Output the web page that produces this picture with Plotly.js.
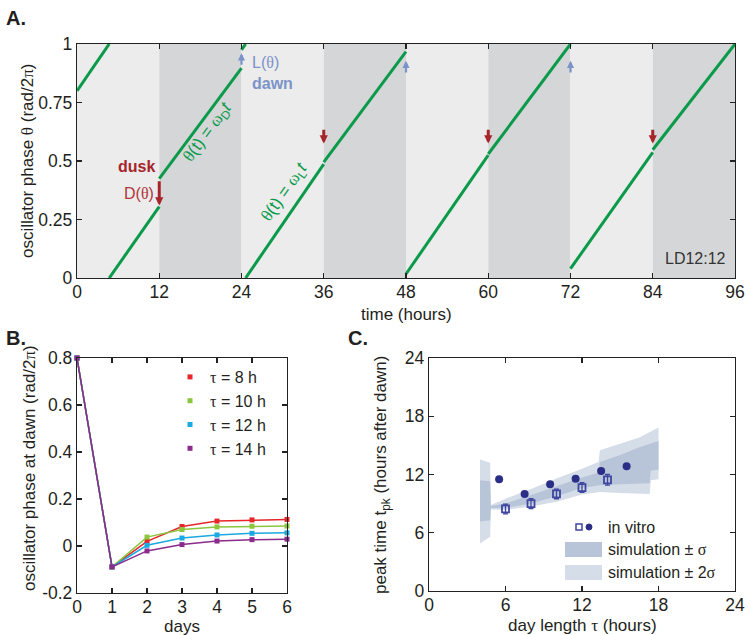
<!DOCTYPE html>
<html><head><meta charset="utf-8">
<script src="https://cdn.plot.ly/plotly-3.0.1.min.js"></script>
<style>html,body{margin:0;padding:0;background:#fff}#chart{width:750px;height:635px}</style>
</head><body><div id="chart"></div>
<script>
// ---------- Panel A data ----------
const phaseTime  = [0, 4.7, null, 4.7, 12, null, 12, 24, null, 24, 24.6, null, 24.6, 36, null, 36, 48, null, 48, 60, null, 60, 72, null, 72, 84, null, 84, 96];
const phaseTheta = [0.8, 1, null, 0, 0.305, null, 0.425, 0.897, null, 0.975, 1, null, 0, 0.487, null, 0.495, 0.967, null, 0.017, 0.525, null, 0.53, 1.0, null, 0.04, 0.537, null, 0.548, 1.0];
const ldEdges = [0, 12, 24, 36, 48, 60, 72, 84, 96];
const duskTimes = [12, 36, 60, 84];
const duskFrom  = [0.42, 0.64, 0.64, 0.64];
const duskTo    = [0.31, 0.575, 0.575, 0.575];
const dawnTimes = [24, 48, 72];
const dawnFrom  = [0.905, 0.872, 0.872];
const dawnTo    = [0.96, 0.928, 0.928];
const timeTicks = [0, 12, 24, 36, 48, 60, 72, 84, 96];
const phaseTicks = [0, 0.25, 0.5, 0.75, 1];
const phaseTickText = ['0', '0.25', '0.5', '0.75', '1'];

// ---------- Panel B data ----------
const days = [0, 1, 2, 3, 4, 5, 6];
const tauLabels = ['8', '10', '12', '14'];
const phaseTau8  = [0.8, -0.089, 0.02, 0.083, 0.106, 0.111, 0.113];
const phaseTau10 = [0.8, -0.089, 0.038, 0.07, 0.081, 0.084, 0.085];
const phaseTau12 = [0.8, -0.089, 0.003, 0.034, 0.047, 0.054, 0.056];
const phaseTau14 = [0.8, -0.089, -0.021, 0.006, 0.021, 0.027, 0.029];
const bTicksY = [-0.2, 0, 0.2, 0.4, 0.6, 0.8];
const bTickTextY = ['-0.2', '0', '0.2', '0.4', '0.6', '0.8'];

// ---------- Panel C data ----------
const sig2UpperX = [4, 4.8, 4.85, 6, 8, 10, 12, 13.3, 13.4, 15, 16.5, 18];
const sig2UpperY = [13.55, 13.2, 8.85, 9.5, 10.5, 11.6, 12.6, 13.3, 14.5, 15.2, 15.8, 16.85];
const sig2LowerX = [4, 4.8, 4.85, 6, 8, 10, 12, 13.4, 15, 17.3, 17.4, 18];
const sig2LowerY = [4.9, 5.6, 8.4, 8.35, 8.7, 9.2, 9.95, 10.2, 10.1, 10.0, 11.4, 11.5];
const sig1UpperX = [4, 4.8, 4.85, 6, 8, 10, 12, 13.3, 13.4, 15, 16.5, 18];
const sig1UpperY = [11.4, 11.3, 8.75, 9.0, 9.9, 10.8, 11.7, 12.2, 13.3, 14.0, 14.8, 15.45];
const sig1LowerX = [4, 4.8, 4.85, 6, 8, 10, 12, 13.4, 15, 17.3, 17.4, 18];
const sig1LowerY = [7.15, 7.3, 8.55, 8.55, 9.0, 9.75, 10.6, 10.9, 11.0, 11.1, 12.4, 12.5];
const vitroCircX = [5.5, 7.5, 9.5, 11.5, 13.5, 15.5];
const vitroCircY = [11.5, 10.0, 11.0, 11.55, 12.35, 12.85];
const vitroSqX = [6, 8, 10, 12, 14];
const vitroSqY = [8.45, 9.0, 10.0, 10.65, 11.45];
const vitroSqErr = [0.5, 0.5, 0.5, 0.5, 0.55];
const cTicks = [0, 6, 12, 18, 24];

// ---------- helpers ----------
const W = 750, H = 635;
const PX = x => x / W;
const PY = y => 1 - y / H;
const FONT = 'Liberation Sans, Arial, Helvetica, sans-serif';
const INK = '#231f20';
const G = s => '<span style="font-family:\'Liberation Serif\',serif">' + s + '</span>';
const GREEN = '#0a9a4a';
const DUSK = '#a6252b';
const DAWN = '#7b93c9';
const NAVY = '#2b2e86';

const traces = [];
traces.push({x: phaseTime, y: phaseTheta, xaxis: 'x', yaxis: 'y', mode: 'lines',
  line: {color: GREEN, width: 3}, connectgaps: false, showlegend: false, hoverinfo: 'skip'});

const bSeries = [phaseTau8, phaseTau10, phaseTau12, phaseTau14];
const bColors = ['#e6262b', '#8cc63e', '#1aa9e0', '#8b2b8c'];
bSeries.forEach((s, i) => {
  traces.push({x: days, y: s, xaxis: 'x2', yaxis: 'y2', mode: 'lines+markers',
    line: {color: bColors[i], width: 1.5}, marker: {symbol: 'square', size: 5, color: bColors[i]},
    cliponaxis: false, showlegend: false, hoverinfo: 'skip'});
});
bSeries.forEach((s, i) => {
  traces.push({x: [null], y: [null], xaxis: 'x2', yaxis: 'y2', mode: 'markers',
    marker: {symbol: 'square', size: 5, color: bColors[i]},
    name: G('τ') + ' = ' + tauLabels[i] + ' h', showlegend: true, legend: 'legend'});
});

function band(ux, uy, lx, ly) {
  return {x: ux.concat(lx.slice().reverse()), y: uy.concat(ly.slice().reverse())};
}
const b2 = band(sig2UpperX, sig2UpperY, sig2LowerX, sig2LowerY);
const b1 = band(sig1UpperX, sig1UpperY, sig1LowerX, sig1LowerY);
traces.push({x: b2.x, y: b2.y, xaxis: 'x3', yaxis: 'y3', mode: 'lines', fill: 'toself',
  fillcolor: '#d5dde9', line: {width: 0, color: 'rgba(0,0,0,0)'}, showlegend: false, hoverinfo: 'skip'});
traces.push({x: b1.x, y: b1.y, xaxis: 'x3', yaxis: 'y3', mode: 'lines', fill: 'toself',
  fillcolor: '#b8c4d8', line: {width: 0, color: 'rgba(0,0,0,0)'}, showlegend: false, hoverinfo: 'skip'});
traces.push({x: vitroCircX, y: vitroCircY, xaxis: 'x3', yaxis: 'y3', mode: 'markers',
  marker: {symbol: 'circle', size: 8, color: NAVY}, showlegend: false, hoverinfo: 'skip'});
traces.push({x: vitroSqX, y: vitroSqY, xaxis: 'x3', yaxis: 'y3', mode: 'markers',
  marker: {symbol: 'square-open', size: 7, color: '#3f46a0', line: {width: 1.8, color: '#3f46a0'}},
  error_y: {type: 'data', array: vitroSqErr, visible: true, color: '#3f46a0', thickness: 1.3, width: 2.5},
  showlegend: false, hoverinfo: 'skip'});

const shapes = [];
for (let i = 0; i < ldEdges.length - 1; i++) {
  shapes.push({type: 'rect', xref: 'x', yref: 'y domain', x0: ldEdges[i], x1: ldEdges[i + 1], y0: 0, y1: 1,
    fillcolor: i % 2 === 0 ? '#ebeceb' : '#d5d6d8', line: {width: 0}, layer: 'below'});
}
shapes.push({type: 'rect', xref: 'paper', yref: 'paper', x0: PX(576), x1: PX(582), y0: PY(530), y1: PY(524),
  line: {color: '#3f46a0', width: 1.5}, fillcolor: 'rgba(0,0,0,0)'});
shapes.push({type: 'circle', xref: 'paper', yref: 'paper', x0: PX(586), x1: PX(592), y0: PY(530), y1: PY(524),
  line: {color: NAVY, width: 1}, fillcolor: NAVY});
shapes.push({type: 'rect', xref: 'paper', yref: 'paper', x0: PX(565), x1: PX(602), y0: PY(557), y1: PY(542),
  line: {width: 0}, fillcolor: '#b8c4d8'});
shapes.push({type: 'rect', xref: 'paper', yref: 'paper', x0: PX(565), x1: PX(602), y0: PY(580), y1: PY(565),
  line: {width: 0}, fillcolor: '#d5dde9'});

const ann = [];
duskTimes.forEach((t, i) => ann.push({xref: 'x', yref: 'y', axref: 'x', ayref: 'y', x: t, y: duskTo[i], ax: t, ay: duskFrom[i],
  text: '', showarrow: true, arrowhead: 2, arrowsize: 0.55, arrowwidth: 3, arrowcolor: DUSK, standoff: 0}));
dawnTimes.forEach((t, i) => ann.push({xref: 'x', yref: 'y', axref: 'x', ayref: 'y', x: t, y: dawnTo[i], ax: t, ay: dawnFrom[i],
  text: '', showarrow: true, arrowhead: 2, arrowsize: 0.65, arrowwidth: 2.2, arrowcolor: DAWN, standoff: 0}));
function lbl(text, x, y, opts) {
  return Object.assign({xref: 'paper', yref: 'paper', x: PX(x), y: PY(y), text: text, showarrow: false,
    xanchor: 'center', yanchor: 'middle', font: {family: FONT, size: 17, color: INK}}, opts || {});
}
ann.push(lbl('<b>dusk</b>', 157, 166, {xanchor: 'right', font: {family: FONT, size: 16, color: DUSK}}));
ann.push(lbl('D(' + G('θ') + ')', 156, 193, {xanchor: 'right', font: {family: FONT, size: 16, color: '#b2343a'}}));
ann.push(lbl('L(' + G('θ') + ')', 250, 62, {xanchor: 'left', font: {family: FONT, size: 16, color: DAWN}}));
ann.push(lbl('<b>dawn</b>', 250, 83, {xanchor: 'left', font: {family: FONT, size: 16, color: DAWN}}));
ann.push(lbl(G('θ') + '(t) = ' + G('ω') + '<sub>D</sub><i>t</i>', 208, 133, {textangle: -53.5, font: {family: FONT, size: 17, color: GREEN}}));
ann.push(lbl(G('θ') + '(t) = ' + G('ω') + '<sub>L</sub><i>t</i>', 285, 193, {textangle: -55, font: {family: FONT, size: 17, color: GREEN}}));
ann.push(lbl('LD12:12', 695, 258, {font: {family: FONT, size: 16, color: '#333333'}}));
ann.push(lbl('<b>A.</b>', 4, 18, {xanchor: 'left', font: {family: FONT, size: 20, color: INK}}));
ann.push(lbl('<b>B.</b>', 4, 338, {xanchor: 'left', font: {family: FONT, size: 20, color: INK}}));
ann.push(lbl('<b>C.</b>', 346, 338, {xanchor: 'left', font: {family: FONT, size: 20, color: INK}}));
ann.push(lbl('oscillator phase ' + G('θ') + ' (rad/2' + G('π') + ')', 27, 161, {textangle: -90}));
ann.push(lbl('time (hours)', 406, 314));
ann.push(lbl('oscillator phase at dawn (rad/2' + G('π') + ')', 29, 468, {textangle: -90}));
ann.push(lbl('days', 182, 626));
ann.push(lbl('peak time t<sub>pk</sub> (hours after dawn)', 382, 475, {textangle: -90}));
ann.push(lbl('day length ' + G('τ') + ' (hours)', 582, 625));
ann.push(lbl('in vitro', 606, 527, {xanchor: 'left', font: {family: FONT, size: 16, color: INK}}));
ann.push(lbl('simulation ± ' + G('σ'), 606, 549, {xanchor: 'left', font: {family: FONT, size: 16, color: INK}}));
ann.push(lbl('simulation ± 2' + G('σ'), 606, 572, {xanchor: 'left', font: {family: FONT, size: 16, color: INK}}));

function ax(extra) {
  return Object.assign({showgrid: false, zeroline: false, showline: true, linecolor: '#222', linewidth: 1.2,
    mirror: 'ticks', ticks: 'inside', ticklen: 5, tickwidth: 1.2, tickcolor: '#222',
    tickfont: {family: FONT, size: 17.5, color: INK}, fixedrange: true}, extra);
}
const layout = {
  width: W, height: H, margin: {l: 0, r: 0, t: 0, b: 0},
  paper_bgcolor: '#ffffff', plot_bgcolor: '#ffffff',
  font: {family: FONT, color: INK},
  xaxis: ax({domain: [PX(77), PX(735)], range: [0, 96], tickvals: timeTicks, anchor: 'y', ticklabelstandoff: -2}),
  yaxis: ax({domain: [PY(278), PY(44)], range: [0, 1], tickvals: phaseTicks, ticktext: phaseTickText, anchor: 'x'}),
  xaxis2: ax({domain: [PX(77), PX(287)], range: [0, 6], dtick: 1, anchor: 'y2', ticklabelstandoff: -2}),
  yaxis2: ax({domain: [PY(593), PY(358)], range: [-0.2, 0.8], tickvals: bTicksY, ticktext: bTickTextY, anchor: 'x2'}),
  xaxis3: ax({domain: [PX(429), PX(735)], range: [0, 24], tickvals: cTicks, anchor: 'y3', ticklabelstandoff: -2}),
  yaxis3: ax({domain: [PY(591), PY(358)], range: [0, 24], tickvals: cTicks, anchor: 'x3'}),
  legend: {x: PX(170), xanchor: 'left', y: PY(360), yanchor: 'top', bgcolor: 'rgba(0,0,0,0)',
    borderwidth: 0, font: {family: FONT, size: 16, color: INK}, tracegroupgap: 0},
  shapes: shapes,
  annotations: ann,
  showlegend: true
};
Plotly.newPlot('chart', traces, layout, {staticPlot: true, displayModeBar: false});
</script></body></html>
